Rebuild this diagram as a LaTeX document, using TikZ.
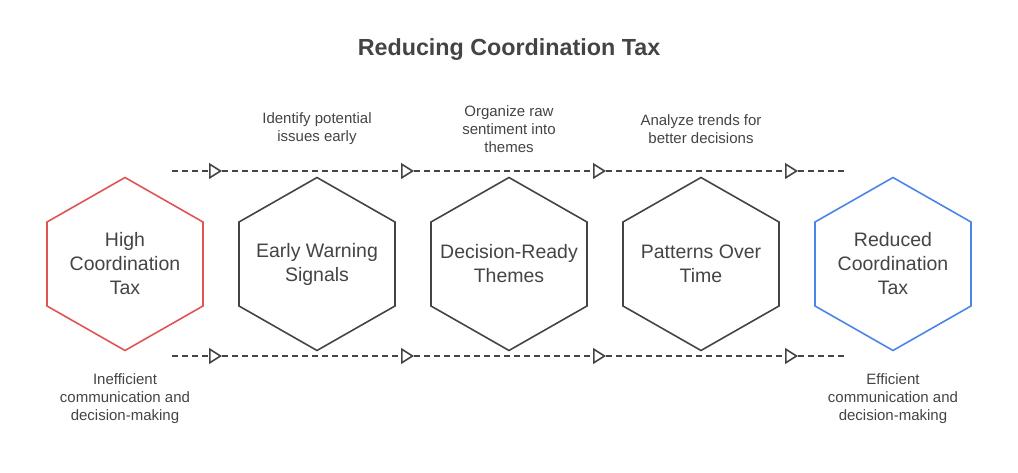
\documentclass[tikz,border=0pt]{standalone}
\usepackage{fontspec}
\setmainfont{Liberation Sans}
\usetikzlibrary{arrows.meta}
\definecolor{inkgray}{HTML}{444444}
\definecolor{hexred}{HTML}{E05454}
\definecolor{hexblue}{HTML}{4A86E8}
\tikzset{
  hexlabel/.style={align=center,text=inkgray,font=\fontsize{19.5}{24}\selectfont},
  notelabel/.style={align=center,text=inkgray,font=\fontsize{15}{18}\selectfont},
  hexline/.style={line width=1.6pt,line join=miter},
  flowline/.style={inkgray,line width=1.6pt,dash pattern=on 6pt off 4pt}
}
\newcommand{\hexat}[2]{% node name, colour
  \draw[hexline,#2] (#1.center) ++(0,-86.5) -- ++(78,44.5) -- ++(0,84) -- ++(-78,44.5)
    -- ++(-78,-44.5) -- ++(0,-84) -- cycle;}
\begin{document}
\begin{tikzpicture}[x=1pt,y=-1pt]
\useasboundingbox (0,0) rectangle (1018,473);
\node[text=inkgray,font=\fontsize{23.3}{28}\selectfont\bfseries] (title) at (509,50) {Reducing Coordination Tax};
% hexagons
\node[hexlabel] (high) at (125,264) {High\\Coordination\\Tax};
\node[hexlabel] (early) at (317,264) {Early Warning\\Signals};
\node[hexlabel] (ready) at (509,264) {Decision-Ready\\Themes};
\node[hexlabel] (pattern) at (701,264) {Patterns Over\\Time};
\node[hexlabel] (reduced) at (893,264) {Reduced\\Coordination\\Tax};
\hexat{high}{hexred}
\hexat{early}{inkgray}
\hexat{ready}{inkgray}
\hexat{pattern}{inkgray}
\hexat{reduced}{hexblue}
% notes
\node[notelabel] (earlynote) at (317,129) {Identify potential\\issues early};
\node[notelabel] (readynote) at (509,129) {Organize raw\\sentiment into\\themes};
\node[notelabel] (patternnote) at (701,129) {Analyze trends for\\better decisions};
\node[notelabel] (highnote) at (125,399) {Inefficient\\communication and\\decision-making};
\node[notelabel] (reducednote) at (893,399) {Efficient\\communication and\\decision-making};
% dashed flow lines
\foreach \row/\y in {t/171,b/356}{
  \coordinate (\row0) at (172,\y);
  \coordinate (\row1) at (222,\y);
  \coordinate (\row2) at (414,\y);
  \coordinate (\row3) at (606,\y);
  \coordinate (\row4) at (798,\y);
  \coordinate (\row5) at (846,\y);
  \foreach \a/\b in {0/1,1/2,2/3,3/4}
    \draw[flowline,-{Triangle[open,length=13pt,width=16pt]}] (\row\a) -- (\row\b);
  \draw[flowline] (\row4) -- (\row5);
}
\end{tikzpicture}
\end{document}
